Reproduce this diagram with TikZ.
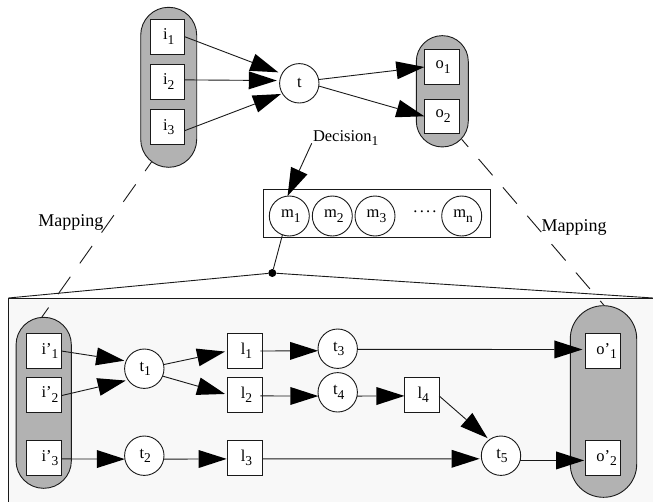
\documentclass[tikz,border=0pt]{standalone}
\usepackage{fontspec}
\setmainfont{Liberation Serif}
\usetikzlibrary{arrows.meta}
\definecolor{pillgray}{HTML}{B2B2B2}
\definecolor{panel}{HTML}{F8F8F8}
\definecolor{ink}{HTML}{1A1A1A}
\newcommand{\ssub}[1]{\raisebox{-4.5pt}{\fontsize{13.5}{13.5}\selectfont #1}}
\newcommand{\pad}[1]{\hspace*{#1}}
\tikzset{
  box/.style={draw=ink,fill=white,line width=0.9pt,minimum width=34.7pt,minimum height=34.7pt,inner sep=0pt,outer sep=0pt,font=\fontsize{16.5}{16.5}\selectfont},
  circ/.style={draw=ink,fill=white,circle,line width=0.9pt,minimum size=39.4pt,inner sep=0pt,outer sep=0pt,font=\fontsize{16.5}{16.5}\selectfont},
  pill/.style={draw=ink,fill=pillgray,line width=0.9pt,inner sep=0pt,outer sep=0pt},
  arr/.style={line width=0.9pt,draw=ink,-{Triangle[length=28pt,width=18pt,fill=black,line width=0pt]}},
  plain/.style={line width=0.9pt,draw=ink},
  maplink/.style={line width=0.9pt,draw=ink},
  lbl/.style={inner sep=0pt,outer sep=0pt,font=\fontsize{16.5}{16.5}\selectfont},
  maplbl/.style={inner sep=0pt,outer sep=0pt,font=\fontsize{18}{18}\selectfont},
}
\begin{document}
\begin{tikzpicture}[x=1pt,y=-1pt]
\useasboundingbox (0,0) rectangle (653,501);
% panel
\node[draw=ink,fill=panel,line width=0.9pt,minimum width=644.7pt,minimum height=212pt,inner sep=0pt,outer sep=0pt,anchor=north west] (panel) at (8.3,298) {};
% mapping line ends
\coordinate (mapa) at (151.7,161.7);
\coordinate (mapb) at (41.7,317.3);
\coordinate (mapc) at (461.7,139.3);
\coordinate (mapd) at (605.7,307.3);
\coordinate (decfoot) at (311.7,143.3);
% fan
\node[circle,fill=black,minimum size=8pt,inner sep=0pt,outer sep=0pt] (dot) at (272.3,273) {};
\draw[plain] (panel.north west) -- (dot) -- (panel.north east);
% mapping lines
\draw[maplink,dash pattern=on 21.3pt off 16.4pt,dash phase=9.9pt] (mapa) -- (mapb);
\draw[maplink,dash pattern=on 21.5pt off 15.9pt,dash phase=11.5pt] (mapc) -- (mapd);
% pills
\node[pill,minimum width=56pt,minimum height=160pt,rounded corners=27.9pt] (ptop) at (168.7,87.3) {};
\node[pill,minimum width=52pt,minimum height=111.3pt,rounded corners=25.9pt] (qtop) at (442.3,91.3) {};
\node[pill,minimum width=55.3pt,minimum height=171pt,rounded corners=27.5pt] (pbot) at (43.7,402.8) {};
\node[pill,minimum width=66.4pt,minimum height=191.6pt,rounded corners=33pt] (qbot) at (603.5,401.5) {};
% top boxes
\node[box] (i1) at (167.3,36.7) {\pad{3pt}i\ssub{1}};
\node[box] (i2) at (167.3,81.7) {\pad{3pt}i\ssub{2}};
\node[box] (i3) at (167.3,127) {\pad{3pt}i\ssub{3}};
\node[circ] (t) at (299.3,83.3) {t};
\node[box] (o1) at (441.7,67) {\pad{3pt}o\ssub{1}};
\node[box] (o2) at (441.7,116.3) {\pad{3pt}o\ssub{2}};
% decision
\node[lbl,anchor=base west] (dec) at (313,141) {Decision\ssub{1}};
\node[draw=ink,fill=white,line width=0.9pt,minimum width=227.7pt,minimum height=48.2pt,inner sep=0pt,outer sep=0pt,anchor=north west] (mbox) at (263,189.3) {};
\node[circ,minimum size=40pt] (m1) at (289.3,216) {\pad{3pt}m\ssub{1}};
\node[circ,minimum size=40pt] (m2) at (332.3,216) {\pad{3pt}m\ssub{2}};
\node[circ,minimum size=40pt] (m3) at (375,216) {\pad{3pt}m\ssub{3}};
\node[lbl,anchor=base] (dots) at (425,212) {.\kern2.2pt.\kern2.2pt.\kern2.2pt.};
\node[circ,minimum size=40pt] (mn) at (461.7,216) {\pad{3pt}m\ssub{n}};
% bottom
\node[box] (ip1) at (44,351) {\pad{12pt}i'\ssub{1}};
\node[box] (ip2) at (44,394.7) {\pad{12pt}i'\ssub{2}};
\node[box] (ip3) at (44,458) {\pad{12pt}i'\ssub{3}};
\node[circ] (t1) at (144.3,368.7) {\pad{2pt}t\ssub{1}};
\node[circ] (t2) at (144.3,455.7) {\pad{2pt}t\ssub{2}};
\node[box] (l1) at (245,351) {\pad{3pt}l\ssub{1}};
\node[box] (l2) at (245,394.7) {\pad{3pt}l\ssub{2}};
\node[box] (l3) at (245,458) {\pad{3pt}l\ssub{3}};
\node[circ] (t3) at (337.7,348.7) {\pad{2pt}t\ssub{3}};
\node[circ] (t4) at (337.7,392.3) {\pad{2pt}t\ssub{4}};
\node[box] (l4) at (421.8,394.7) {\pad{3pt}l\ssub{4}};
\node[circ] (t5) at (501,455.7) {\pad{2pt}t\ssub{5}};
\node[box] (op1) at (603.2,351) {\pad{7pt}o'\ssub{1}};
\node[box] (op2) at (603.2,458) {\pad{7pt}o'\ssub{2}};
% labels
\node[maplbl,anchor=base west] (mapl) at (38.3,226) {Mapping};
\node[maplbl,anchor=base west] (mapr) at (541.7,231) {Mapping};
% arrows top
\draw[arr,shorten >=4pt] (i1.east) -- (t.151);
\draw[arr,shorten >=3pt] (i2.6) -- (t.172);
\draw[arr,shorten >=1.5pt] (i3.-12) -- (t.211);
\draw[arr] (t.11) -- (o1.west);
\draw[arr] (t.-8) -- (o2.west);
\draw[arr] (decfoot) -- (m1.95);
% fan stem
\draw[plain] (m1.-110) -- (dot);
% arrows bottom
\draw[arr,shorten >=2pt] (ip1.east) -- (t1.157);
\draw[arr,shorten >=2.5pt] (ip2.-3) -- (t1.215);
\draw[arr] (ip3.-3) -- (t2.190);
\draw[arr,shorten >=2.7pt] (t1.12.6) -- (l1.west);
\draw[arr,shorten >=2.7pt] (t1.-22) -- (l2.west);
\draw[arr,shorten >=1pt] (t2.-10) -- (l3.-177);
\draw[arr,shorten <=-2pt] (l1.east) -- (t3.186);
\draw[arr,shorten <=-2pt] (l2.-4) -- (t4.191);
\draw[arr,shorten >=3.4pt] (t3.-2) -- (op1.175);
\draw[arr] (t4.-11) -- (l4.184);
\draw[arr,shorten >=2.5pt] (l4.-4) -- (t5.126);
\draw[arr,shorten >=1.9pt] (l3.-3) -- (t5.189);
\draw[arr,shorten >=1.7pt] (t5.-14.7) -- (op2.188.8);
\end{tikzpicture}
\end{document}
